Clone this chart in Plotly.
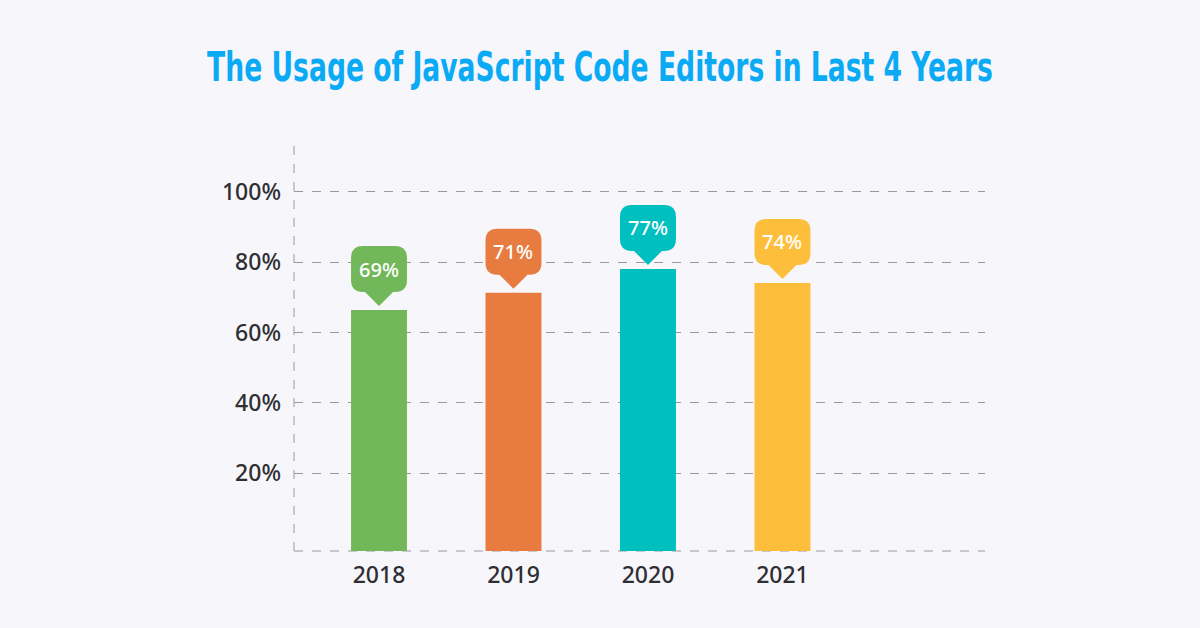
import plotly.graph_objects as go

years = ["2018", "2019", "2020", "2021"]
bar_values = [66.4, 71.3, 78.1, 74.1]
labels = ["69%", "71%", "77%", "74%"]
colors = ["#72B85A", "#E87B40", "#00BFBF", "#FDBF3B"]
y_ticks = [20, 40, 60, 80, 100]
y_tick_text = ["20%", "40%", "60%", "80%", "100%"]

x_pos = list(range(len(years)))
Y_MIN, Y_MAX = -2.2, 114.8
X_MIN, X_MAX = -0.632, 4.506
BAR_W = 0.416

fig = go.Figure()
fig.add_trace(go.Bar(
    x=x_pos,
    y=[v - Y_MIN for v in bar_values],
    base=Y_MIN,
    width=BAR_W,
    marker=dict(color=colors, line=dict(width=0)),
    hoverinfo="skip",
))

# callout geometry (data units)
px_per_y = 3.5125
px_per_x = 134.5
box_h = 46 / px_per_y
tip_h = 14 / px_per_y
gap = 4 / px_per_y
hw = BAR_W / 2
rx = 12 / px_per_x
ry = 12 / px_per_y
tw = 14 / px_per_x

shapes = []
annotations = []
for xi, v, lab, c in zip(x_pos, bar_values, labels, colors):
    tip = v + gap
    yb = tip + tip_h
    yt = yb + box_h
    L, R = xi - hw, xi + hw
    path = (
        f"M {L+rx},{yt} L {R-rx},{yt} Q {R},{yt} {R},{yt-ry} "
        f"L {R},{yb+ry} Q {R},{yb} {R-rx},{yb} "
        f"L {xi+tw},{yb} L {xi},{tip} L {xi-tw},{yb} "
        f"L {L+rx},{yb} Q {L},{yb} {L},{yb+ry} "
        f"L {L},{yt-ry} Q {L},{yt} {L+rx},{yt} Z"
    )
    shapes.append(dict(type="path", path=path, xref="x", yref="y",
                       fillcolor=c, line=dict(width=0), layer="above"))
    annotations.append(dict(x=xi, y=(yb + yt) / 2, xref="x", yref="y",
                            text=lab, showarrow=False,
                            font=dict(family="Noto Sans", size=20, color="white", weight=500)))

# dashed frame lines (left and bottom)
shapes.append(dict(type="line", xref="paper", yref="paper", x0=0, x1=0, y0=0, y1=1,
                   line=dict(color="#9A9A9E", width=1, dash="dash"), layer="below"))
shapes.append(dict(type="line", xref="paper", yref="paper", x0=0, x1=1, y0=0, y1=0,
                   line=dict(color="#9A9A9E", width=1, dash="dash"), layer="below"))

title_font = "'DejaVu Sans Condensed', 'Liberation Sans Narrow', 'Roboto Condensed', 'Noto Sans', sans-serif"

fig.update_layout(
    width=1200, height=628,
    paper_bgcolor="#F6F6FB", plot_bgcolor="#F6F6FB",
    margin=dict(l=294, r=215, t=140, b=77),
    showlegend=False,
    shapes=shapes,
    annotations=annotations,
    title=dict(text="The Usage of JavaScript Code Editors in Last 4 Years",
               x=0.5, xref="container", xanchor="center",
               y=1 - 67 / 628, yref="container", yanchor="middle",
               font=dict(family=title_font, size=40, color="#0BAAF5", weight=700)),
    xaxis=dict(range=[X_MIN, X_MAX], tickvals=x_pos, ticktext=years,
               showgrid=False, zeroline=False, showline=False, ticks="",
               ticklabelstandoff=8,
               tickfont=dict(family="Noto Sans", size=23, color="#2E2E33", weight=500)),
    yaxis=dict(range=[Y_MIN, Y_MAX], tickvals=y_ticks, ticktext=y_tick_text,
               showgrid=True, gridcolor="#9A9A9E", griddash="dash", gridwidth=1,
               zeroline=False, showline=False, ticks="", ticklabelstandoff=12,
               tickfont=dict(family="Noto Sans", size=23, color="#2E2E33", weight=500)),
)

post = """
document.body.style.margin='0';
var t = document.querySelector('.gtitle');
if (t) {
  var bb = t.getBBox();
  var s = 786 / bb.width;
  var cx = bb.x + bb.width / 2;
  t.setAttribute('transform', 'translate(' + cx + ',0) scale(' + s + ',1) translate(' + (-cx) + ',0)');
}
"""

fig.write_html("out.html", post_script=post, config={"displayModeBar": False})
